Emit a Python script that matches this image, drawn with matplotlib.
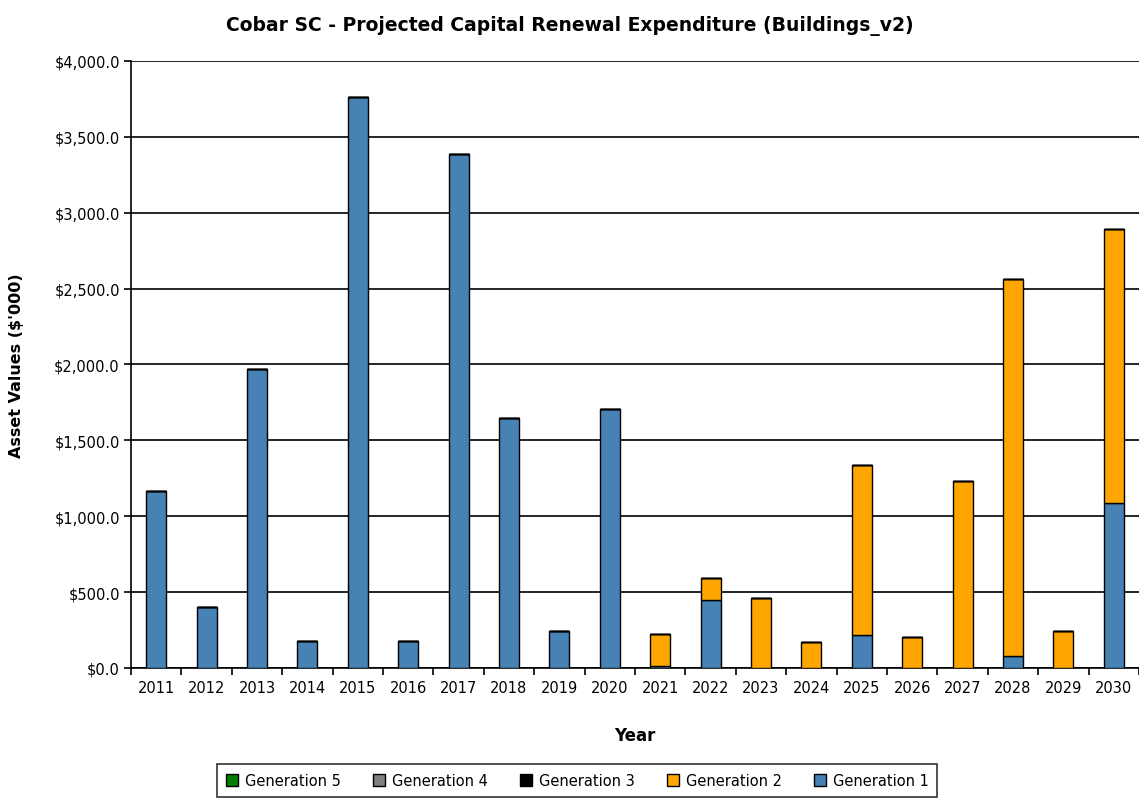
import matplotlib
matplotlib.use("Agg")
import matplotlib.pyplot as plt
import numpy as np
from matplotlib.ticker import FuncFormatter, MultipleLocator

# data ($'000)
years = [str(y) for y in range(2011, 2031)]
gen1 = [1165, 399, 1968, 178, 3763, 178, 3390, 1649, 243, 1704,
        10, 450, 0, 0, 217, 0, 0, 77, 0, 1088]
gen2 = [0, 0, 0, 0, 0, 0, 0, 0, 0, 0,
        216, 142, 461, 173, 1121, 206, 1231, 2488, 241, 1805]
gen3 = [0] * 20
gen4 = [0] * 20
gen5 = [0] * 20

series = [("Generation 1", gen1, "#4682B4"),
          ("Generation 2", gen2, "#FFA500"),
          ("Generation 3", gen3, "#000000"),
          ("Generation 4", gen4, "#808080"),
          ("Generation 5", gen5, "#008000")]

fig = plt.figure(figsize=(11.39, 8.03), dpi=100)
ax = fig.add_axes([0.115, 0.1669, 0.885, 0.7559])

x = np.arange(len(years))
bottom = np.zeros(len(years))
handles = {}
for name, vals, col in series:
    vals = np.array(vals, dtype=float)
    b = ax.bar(x, vals, width=0.4, bottom=bottom, color=col,
               edgecolor="black", linewidth=1.0, zorder=3, label=name)
    handles[name] = b
    bottom += vals

ax.set_xlim(-0.5, len(years) - 0.5)
ax.set_ylim(0, 4000)
ax.yaxis.set_major_locator(MultipleLocator(500))
ax.yaxis.set_major_formatter(FuncFormatter(lambda v, p: "${:,.1f}".format(v)))
ax.grid(axis="y", color="black", linewidth=1.2, zorder=0)

ax.set_xticks(x)
ax.set_xticklabels(years)
ax.set_xticks(np.arange(len(years) + 1) - 0.5, minor=True)
ax.tick_params(axis="x", which="major", length=0, pad=9, labelsize=10.5)
ax.tick_params(axis="x", which="minor", length=5, width=1.2, color="black")
ax.tick_params(axis="y", length=5, width=1.2, labelsize=10.5, pad=3)

for s in ["top", "right"]:
    ax.spines[s].set_visible(False)
ax.spines["left"].set_linewidth(1.2)
ax.spines["bottom"].set_linewidth(1.2)

ax.set_title("Cobar SC - Projected Capital Renewal Expenditure (Buildings_v2)",
             fontsize=13.5, fontweight="bold", x=0.435, pad=22)
ax.set_xlabel("Year", fontsize=12, fontweight="bold", labelpad=22)
ax.set_ylabel("Asset Values ($'000)", fontsize=11.5, fontweight="bold", labelpad=22)

order = ["Generation 5", "Generation 4", "Generation 3", "Generation 2", "Generation 1"]
leg = fig.legend([handles[n] for n in order], order, loc="upper center",
                 bbox_to_anchor=(0.507, 0.056), ncol=5, fontsize=10.5,
                 frameon=True, fancybox=False, edgecolor="black",
                 handlelength=0.8, handleheight=0.8, handletextpad=0.5,
                 columnspacing=2.2, borderpad=0.6)
leg.get_frame().set_linewidth(1.2)

fig.savefig("out.png", dpi=100)
